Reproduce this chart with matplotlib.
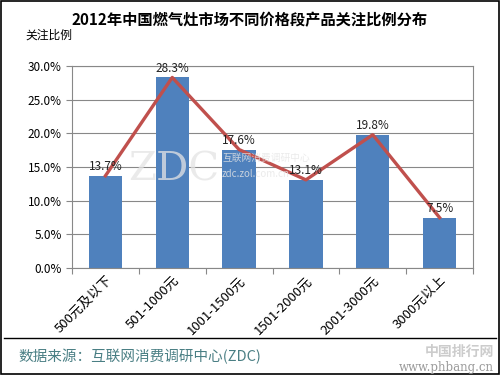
import matplotlib.pyplot as plt
import numpy as np

plt.rcParams['font.family'] = ['Noto Sans CJK SC', 'DejaVu Sans']

# data
categories = ["500元及以下", "501-1000元", "1001-1500元", "1501-2000元", "2001-3000元", "3000元以上"]
values = [13.7, 28.3, 17.6, 13.1, 19.8, 7.5]
yticks = [0, 5, 10, 15, 20, 25, 30]

fig = plt.figure(figsize=(5, 3.75), dpi=100)
ax = fig.add_axes([0.144, 0.285, 0.802, 0.539])

x = np.arange(len(categories))
ax.bar(x, values, width=0.5, color="#4f81bd", zorder=2)
ax.plot(x, values, color="#c0504d", lw=2.4, zorder=3)

for xi, v in zip(x, values):
    ax.text(xi, v + 0.4, f"{v:.1f}%", ha="center", va="bottom", fontsize=8.5, color="#222222", zorder=5)

ax.set_xlim(-0.5, len(categories) - 0.5)
ax.set_ylim(0, 30)
ax.set_yticks(yticks)
ax.set_yticklabels([f"{t:.1f}%" for t in yticks], fontsize=8.5)
ax.set_xticks(np.arange(len(categories) + 1) - 0.5, minor=False)
ax.set_xticklabels([])
ax.set_xticks(x, minor=True)
ax.set_xticklabels(categories, minor=True, rotation=45, ha="right", rotation_mode="anchor", fontsize=9.5)
ax.tick_params(axis="x", which="minor", length=0, pad=4)
ax.tick_params(axis="x", which="major", length=4, color="#888888")
ax.tick_params(axis="y", length=4, color="#888888")
ax.grid(axis="y", color="#888888", lw=0.8, zorder=0)
for s in ax.spines.values():
    s.set_color("#888888")

# watermark (drawn over the bars, like the original)
fig.text(0.348, 0.547, "ZDC", fontsize=29, color="#e4e4e4", alpha=0.75, ha="center", va="center",
         family="DejaVu Serif", zorder=4)
fig.text(0.444, 0.578, "互联网消费调研中心", fontsize=7, color="#e6e6e6", alpha=0.8, ha="left", va="center", zorder=4)
fig.text(0.444, 0.535, "zdc.zol.com.cn", fontsize=7, color="#e6e6e6", alpha=0.8, ha="left", va="center", zorder=4)

fig.text(0.5, 0.947, "2012年中国燃气灶市场不同价格段产品关注比例分布", ha="center", va="center",
         fontsize=11, fontweight="bold")
fig.text(0.05, 0.907, "关注比例", ha="left", va="center", fontsize=8.5)
fig.text(0.036, 0.048, "数据来源：互联网消费调研中心(ZDC)", ha="left", va="center", fontsize=10.5, color="#4a7f84")
fig.text(0.988, 0.062, "中国排行网", ha="right", va="center", fontsize=10, color="#cccccc", fontweight="bold")
fig.text(0.988, 0.02, "www.phbang.cn", ha="right", va="center", fontsize=8.5, color="#999999", family="DejaVu Serif")

fig.add_artist(plt.Line2D([0.008, 0.992], [0.099, 0.099], color="black", lw=1))
fig.add_artist(plt.Rectangle((0.002, 0.003), 0.996, 0.994, fill=False, edgecolor="black", lw=1.2))

fig.savefig("out.png", dpi=100)
